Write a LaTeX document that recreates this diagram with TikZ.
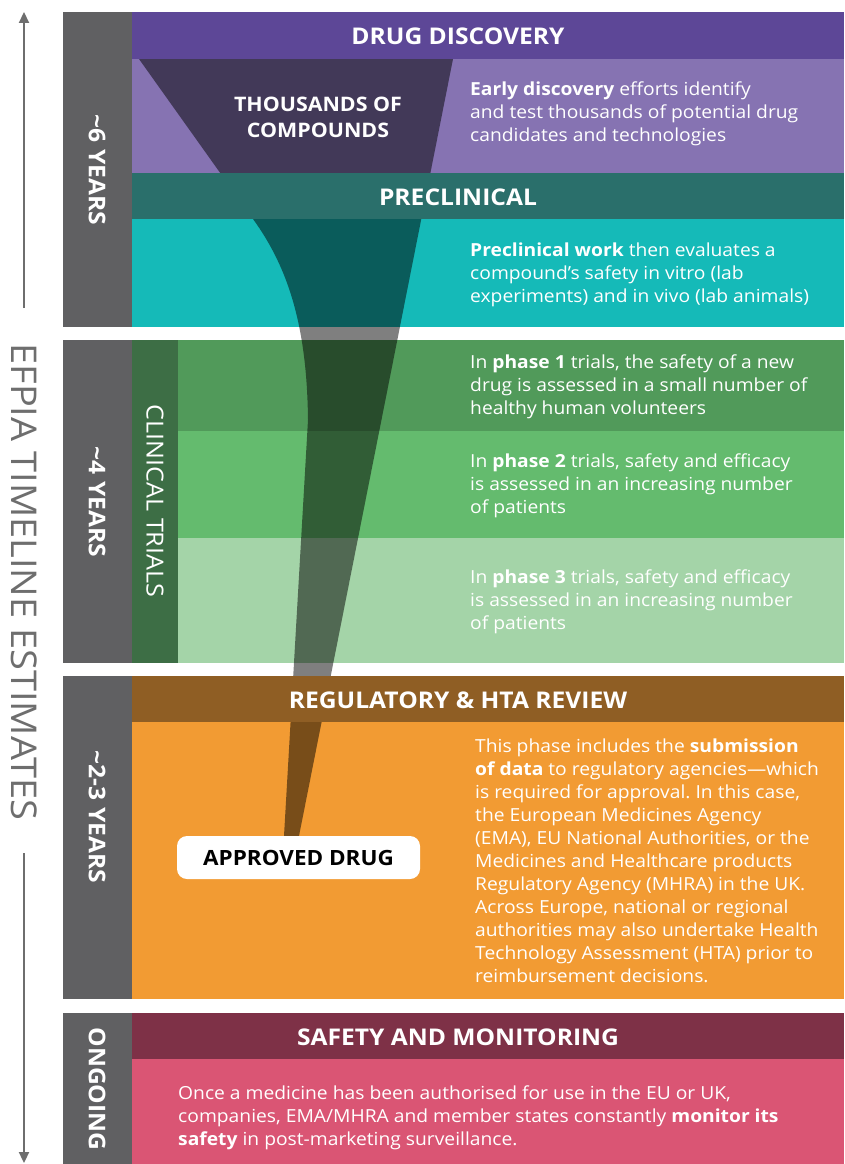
\documentclass[tikz,border=0pt]{standalone}
\usepackage{fontspec}
\setmainfont{Open Sans}[FakeStretch=1.07]
\usetikzlibrary{arrows.meta}
\frenchspacing

\definecolor{yearbar}{HTML}{606062}
\definecolor{discoverydark}{HTML}{5D4797}
\definecolor{discoverylight}{HTML}{8673B2}
\definecolor{precldark}{HTML}{2A6F6B}
\definecolor{precllight}{HTML}{15BAB8}
\definecolor{clinicalcol}{HTML}{3D6E45}
\definecolor{phaseone}{HTML}{519A5A}
\definecolor{phasetwo}{HTML}{64BB6E}
\definecolor{phasethree}{HTML}{A4D4A8}
\definecolor{regdark}{HTML}{8F5E24}
\definecolor{reglight}{HTML}{F29B33}
\definecolor{safedark}{HTML}{7E3147}
\definecolor{safelight}{HTML}{DA5574}
\definecolor{timelinegray}{HTML}{6E6E6E}

\begin{document}
\begin{tikzpicture}[x=1pt,y=-1pt,
  header/.style={text=white, inner sep=0, font=\bfseries\fontsize{23}{28}\selectfont},
  sidelabel/.style={text=white, inner sep=0, rotate=-90, font=\bfseries\fontsize{23}{28}\selectfont},
  body/.style={text=white, align=left, anchor=north west, inner sep=0, font=\fontsize{18}{23}\selectfont},
  timeline/.style={draw=timelinegray, line width=2.2pt, -{Triangle[length=11pt,width=10pt]}},
  funnel/.style={fill=black, fill opacity=0.5},
  approvedbox/.style={fill=white, rounded corners=10pt, minimum width=243pt, minimum height=43pt,
    inner sep=0, font=\bfseries\fontsize{21}{24}\selectfont, text=black}
]
% canvas
\fill[white] (0,0) rectangle (844,1164);
\useasboundingbox (0,0) rectangle (844,1164);

% year bars
\fill[yearbar] (63,12) rectangle (132,327);
\fill[yearbar] (63,340) rectangle (132,663);
\fill[yearbar] (63,676) rectangle (132,999);
\fill[yearbar] (63,1013) rectangle (132,1164);

% stage panels
\fill[discoverylight] (132,59) rectangle (844,173);
\fill[precllight] (132,219) rectangle (844,327);
\fill[clinicalcol] (132,340) rectangle (178,663);
\fill[phaseone] (178,340) rectangle (844,431);
\fill[phasetwo] (178,431) rectangle (844,538);
\fill[phasethree] (178,538) rectangle (844,663);
\fill[reglight] (132,722) rectangle (844,999);
\fill[safelight] (132,1059) rectangle (844,1164);

% funnel of candidates narrowing to one drug
\fill[funnel] (139,59) -- (453,59) -- (299,836) -- (284,836) -- (308,420)
  .. controls (307,330) and (290,270) .. (253,219) -- cycle;

% stage headers
\fill[discoverydark] (132,12) rectangle (844,59);
\fill[precldark] (132,173) rectangle (844,219);
\fill[regdark] (132,676) rectangle (844,722);
\fill[safedark] (132,1013) rectangle (844,1059);

\node[header] (hdiscovery) at (458,36) {DRUG DISCOVERY};
\node[header] (hpreclinical) at (458,197) {PRECLINICAL};
\node[header] (hregulatory) at (458,700) {REGULATORY \& HTA REVIEW};
\node[header] (hsafety) at (458,1037) {SAFETY AND MONITORING};

\node[header, align=center, font=\bfseries\fontsize{20}{26}\selectfont] (compounds) at (318,117)
  {THOUSANDS OF\\COMPOUNDS};

% year labels
\node[sidelabel] (ysix) at (97,170) {\textasciitilde6 YEARS};
\node[sidelabel] (yfour) at (97,502) {\textasciitilde4 YEARS};
\node[sidelabel] (ytwo) at (97,817) {\textasciitilde2-3 YEARS};
\node[sidelabel] (yongoing) at (97,1089) {ONGOING};
\node[sidelabel, font=\fontsize{23.5}{28}\selectfont] (clinical) at (155,501) {CLINICAL TRIALS};

% descriptions
\node[body] (tdiscovery) at (470,82)
  {\textbf{Early discovery} efforts identify\\and test thousands of potential drug\\candidates and technologies};
\node[body] (tpreclinical) at (470,243)
  {\textbf{Preclinical work} then evaluates a\\compound’s safety in vitro (lab\\experiments) and in vivo (lab animals)};
\node[body] (tphaseone) at (470,355)
  {In \textbf{phase 1} trials, the safety of a new\\drug is assessed in a small number of\\healthy human volunteers};
\node[body] (tphasetwo) at (470,454)
  {In \textbf{phase 2} trials, safety and efficacy\\is assessed in an increasing number\\of patients};
\node[body] (tphasethree) at (470,570)
  {In \textbf{phase 3} trials, safety and efficacy\\is assessed in an increasing number\\of patients};
\node[body] (tregulatory) at (475,739)
  {This phase includes the \textbf{submission}\\\textbf{of data} to regulatory agencies—which\\is required for approval. In this case,\\the European Medicines Agency\\(EMA), EU National Authorities, or the\\Medicines and Healthcare products\\Regulatory Agency (MHRA) in the UK.\\Across Europe, national or regional\\authorities may also undertake Health\\Technology Assessment (HTA) prior to\\reimbursement decisions.};
\node[body] (tsafety) at (178,1086)
  {Once a medicine has been authorised for use in the EU or UK,\\companies, EMA/MHRA and member states constantly \textbf{monitor its}\\\textbf{safety} in post-marketing surveillance.};

% end of the funnel
\node[approvedbox] (approved) at (298.5,857.5) {APPROVED DRUG};

% timeline axis
\node[rotate=-90, inner sep=0, text=timelinegray, font=\fontsize{35.5}{40}\selectfont] (efpia) at (24,582)
  {EFPIA TIMELINE ESTIMATES};
\coordinate (upstart) at (24,308);
\coordinate (uptip) at (24,12);
\coordinate (downstart) at (24,853);
\coordinate (downtip) at (24,1163);
\draw[timeline] (upstart) -- (uptip);
\draw[timeline] (downstart) -- (downtip);
\end{tikzpicture}
\end{document}
